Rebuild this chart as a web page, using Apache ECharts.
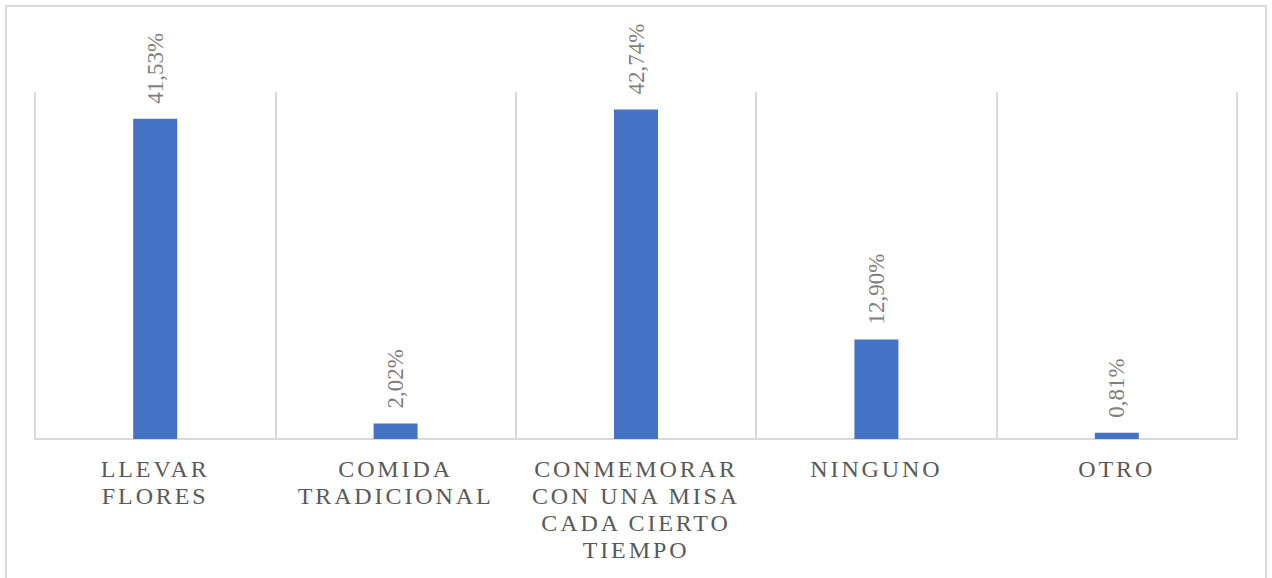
<!DOCTYPE html>
<html>
<head>
<meta charset="utf-8">
<script src="https://cdn.jsdelivr.net/npm/echarts@6/dist/echarts.min.js"></script>
<style>
  html, body { margin: 0; padding: 0; background: #fff; }
  #chart { width: 1272px; height: 578px; }
  #chart text[fill="#595959"] { letter-spacing: 2.9px; }
</style>
</head>
<body>
<div id="chart"></div>
<script>
const categories = [
  'LLEVAR\nFLORES',
  'COMIDA\nTRADICIONAL',
  'CONMEMORAR\nCON UNA MISA\nCADA CIERTO\nTIEMPO',
  'NINGUNO',
  'OTRO'
];
const values = [41.53, 2.02, 42.74, 12.90, 0.81];

const chart = echarts.init(document.getElementById('chart'), null, { renderer: 'svg' });
chart.setOption({
  animation: false,
  backgroundColor: '#ffffff',
  graphic: [{
    type: 'rect',
    shape: { x: 6, y: 6, width: 1260, height: 600 },
    style: { fill: 'none', stroke: '#d9d9d9', lineWidth: 2 },
    silent: true
  }],
  grid: { left: 35, right: 35, top: 92, bottom: 139, containLabel: false },
  xAxis: {
    type: 'category',
    data: categories,
    boundaryGap: true,
    axisLine: { show: true, lineStyle: { color: '#d9d9d9', width: 2 } },
    axisTick: { show: false },
    splitLine: { show: true, interval: 0, lineStyle: { color: '#d9d9d9', width: 2 } },
    axisLabel: {
      interval: 0,
      margin: 16,
      color: '#595959',
      fontFamily: 'Liberation Serif',
      fontSize: 24,
      lineHeight: 27,
      align: 'center'
    }
  },
  yAxis: {
    type: 'value',
    min: 0,
    max: 45,
    show: false,
    splitLine: { show: false }
  },
  series: [{
    type: 'bar',
    data: values,
    barWidth: 44,
    itemStyle: { color: '#4472C4' },
    label: {
      show: true,
      position: 'top',
      rotate: 90,
      align: 'left',
      verticalAlign: 'middle',
      distance: 15,
      color: '#7f7f7f',
      fontFamily: 'Liberation Serif',
      fontSize: 23,
      formatter: p => p.value.toFixed(2).replace('.', ',') + '%'
    }
  }]
});
</script>
</body>
</html>
